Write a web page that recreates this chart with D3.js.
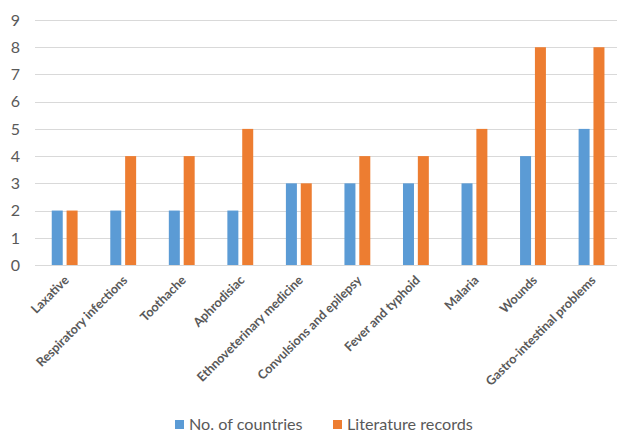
<!DOCTYPE html>
<html>
<head>
<meta charset="utf-8">
<script src="https://cdn.jsdelivr.net/npm/d3@7"></script>
<style>
  html, body { margin: 0; padding: 0; background: #fff; }
  svg { display: block; }
</style>
</head>
<body>
<script>
const categories = ["Laxative", "Respiratory infections", "Toothache", "Aphrodisiac",
  "Ethnoveterinary medicine", "Convulsions and epilepsy", "Fever and typhoid",
  "Malaria", "Wounds", "Gastro-intestinal problems"];
const seriesNames = ["No. of countries", "Literature records"];
const countries = [2, 2, 2, 2, 3, 3, 3, 3, 4, 5];
const literature = [2, 4, 4, 5, 3, 4, 4, 5, 8, 8];
const yTicks = [0, 1, 2, 3, 4, 5, 6, 7, 8, 9];
const colors = ["#5B9BD5", "#ED7D31"];

const W = 617, H = 433;
const svg = d3.select("body").append("svg").attr("width", W).attr("height", H);

const x = d3.scaleBand().domain(categories).range([35.4, 620.8]);
const y = d3.scaleLinear().domain([0, 9]).range([265, 20]);
const xs = d3.scaleBand().domain(seriesNames).range([0, x.bandwidth()]).paddingInner(0.26).paddingOuter(1.1);

// gridlines
svg.append("g").selectAll("line").data(yTicks).join("line")
  .attr("x1", 35).attr("x2", W)
  .attr("y1", d => Math.round(y(d)) + 0.5).attr("y2", d => Math.round(y(d)) + 0.5)
  .attr("stroke", "#D9D9D9").attr("stroke-width", 1);

// y tick labels
svg.append("g").selectAll("text").data(yTicks).join("text")
  .attr("x", 20).attr("y", d => y(d)).attr("dy", "0.36em")
  .attr("text-anchor", "end")
  .attr("font-family", "Lato, 'Open Sans', sans-serif").attr("font-size", 16)
  .attr("fill", "#595959").text(d => d);

// bars
const data = categories.map((c, i) => ({ c, vals: [countries[i], literature[i]] }));
const gCat = svg.append("g").selectAll("g").data(data).join("g")
  .attr("transform", d => `translate(${x(d.c)},0)`);
gCat.selectAll("rect").data(d => d.vals.map((v, j) => ({ v, s: seriesNames[j], j })))
  .join("rect")
  .attr("x", d => xs(d.s)).attr("width", xs.bandwidth())
  .attr("y", d => y(d.v)).attr("height", d => y(0) - y(d.v))
  .attr("fill", d => colors[d.j]);

// category labels
svg.append("g").selectAll("text").data(categories).join("text")
  .attr("transform", d => `translate(${x(d) + x.bandwidth() / 2 + 5},${281}) rotate(-45)`)
  .attr("text-anchor", "end")
  .attr("font-family", "Lato, 'Open Sans', sans-serif").attr("font-size", 12.6)
  .attr("font-weight", "bold")
  .attr("fill", "#595959").text(d => d);

// legend
const legend = svg.append("g");
const legX = [175, 333];
seriesNames.forEach((s, i) => {
  legend.append("rect").attr("x", legX[i]).attr("y", 420).attr("width", 9).attr("height", 9).attr("fill", colors[i]);
  legend.append("text").attr("x", legX[i] + 14).attr("y", 430)
    .attr("font-family", "Lato, 'Open Sans', sans-serif").attr("font-size", 16.2)
    .attr("fill", "#595959").text(s);
});
</script>
</body>
</html>
